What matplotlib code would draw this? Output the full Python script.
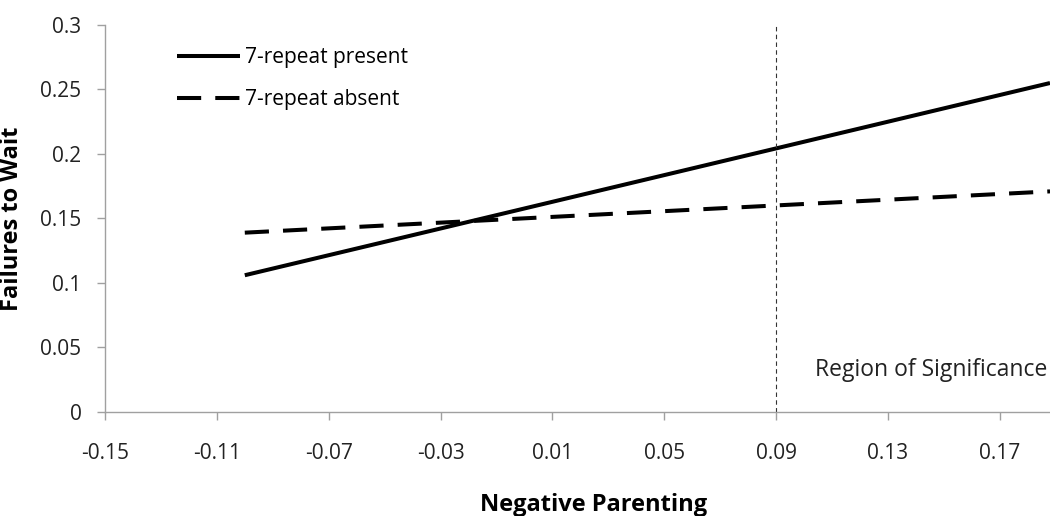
import matplotlib.pyplot as plt

# simple slopes at low / high negative parenting
x_vals = [-0.1, 0.188]
present = [0.106, 0.255]
absent = [0.139, 0.171]
x_ticks = [-0.15, -0.11, -0.07, -0.03, 0.01, 0.05, 0.09, 0.13, 0.17]
y_ticks = [0, 0.05, 0.1, 0.15, 0.2, 0.25, 0.3]
sig_x = 0.09

plt.rcParams['font.family'] = ['Open Sans', 'DejaVu Sans']

fig = plt.figure(figsize=(10.5, 5.16), dpi=100)
ax = fig.add_axes([0.1, 0.2016, 0.9, 0.75])

ax.plot(x_vals, present, color='black', lw=2.9, solid_capstyle='butt', label='7-repeat present')
ax.plot(x_vals, absent, color='black', lw=2.9, dashes=(6, 3.5), dash_capstyle='butt',
        label='7-repeat absent')
ax.axvline(sig_x, color='#333333', lw=0.8, dashes=(4, 3))
ax.text(0.997, 0.108, 'Region of Significance', transform=ax.transAxes,
        ha='right', va='center', fontsize=16.5, color='#222222')

ax.set_xlim(-0.15, 0.188)
ax.set_ylim(0, 0.3)
ax.set_xticks(x_ticks)
ax.set_xticklabels(['{:g}'.format(v) for v in x_ticks])
ax.set_yticks(y_ticks)
ax.set_yticklabels(['{:g}'.format(v) for v in y_ticks])
ax.tick_params(labelsize=15, colors='#a0a0a0', labelcolor='#222222', length=6, width=1)
ax.tick_params(axis='x', pad=16)
ax.tick_params(axis='y', pad=11)

for s in ['top', 'right']:
    ax.spines[s].set_visible(False)
for s in ['left', 'bottom']:
    ax.spines[s].set_color('#a0a0a0')
    ax.spines[s].set_linewidth(1)

ax.set_xlabel('Negative Parenting', fontsize=17, fontweight='bold')
ax.set_ylabel('Failures to Wait', fontsize=17, fontweight='bold')
ax.xaxis.set_label_coords(0.517, -0.21)
ax.yaxis.set_label_coords(-0.086, 0.5)

ax.legend(loc='upper left', bbox_to_anchor=(0.0762, 0.942), frameon=False, fontsize=15,
          handlelength=3.0, handletextpad=0.25, labelspacing=1.0,
          borderaxespad=0, borderpad=0)

fig.savefig('out.png', dpi=100)
